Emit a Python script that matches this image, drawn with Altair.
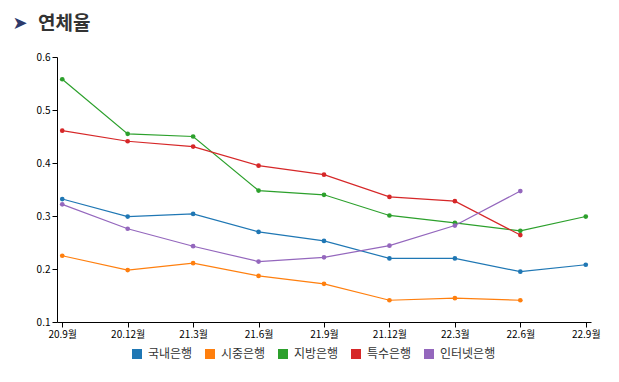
import altair as alt
import pandas as pd

periods = ["20.9월", "20.12월", "21.3월", "21.6월", "21.9월", "21.12월", "22.3월", "22.6월", "22.9월"]
series_names = ["국내은행", "시중은행", "지방은행", "특수은행", "인터넷은행"]
colors = ["#1f77b4", "#ff7f0e", "#2ca02c", "#d62728", "#9467bd"]

domestic = [0.332, 0.299, 0.304, 0.270, 0.253, 0.220, 0.220, 0.195, 0.208]
commercial = [0.225, 0.198, 0.211, 0.187, 0.172, 0.141, 0.145, 0.141, None]
regional = [0.558, 0.455, 0.450, 0.348, 0.340, 0.301, 0.287, 0.272, 0.299]
special = [0.461, 0.441, 0.431, 0.395, 0.378, 0.336, 0.328, 0.264, None]
internet = [0.322, 0.276, 0.243, 0.214, 0.222, 0.244, 0.282, 0.347, None]

rows = []
for name, vals in zip(series_names, [domestic, commercial, regional, special, internet]):
    for p, v in zip(periods, vals):
        if v is not None:
            rows.append({"기간": p, "은행": name, "연체율": v})
df = pd.DataFrame(rows)

FONT = "Noto Sans CJK KR"

x = alt.X("기간:N", sort=periods, title=None,
          scale=alt.Scale(type="point", padding=0.08),
          axis=alt.Axis(labelAngle=0, labelFontSize=10, labelColor="#000", tickColor="#000",
                        domainColor="#000", labelFont=FONT, labelFontWeight="normal",
                        tickSize=5, labelPadding=2))
y = alt.Y("연체율:Q", title=None,
          scale=alt.Scale(domain=[0.1, 0.6], zero=False, nice=False),
          axis=alt.Axis(values=[0.1, 0.2, 0.3, 0.4, 0.5, 0.6], format=".1f", grid=False,
                        labelFontSize=10, labelColor="#000", tickColor="#000", domainColor="#000",
                        labelFont=FONT, tickSize=5))
color = alt.Color("은행:N", sort=series_names,
                  scale=alt.Scale(domain=series_names, range=colors),
                  legend=alt.Legend(orient="none", legendX=74, legendY=291, direction="horizontal",
                                    title=None, symbolType="square", symbolSize=100,
                                    symbolStrokeWidth=0, symbolOpacity=1,
                                    labelFontSize=12, labelFont=FONT, labelColor="#333",
                                    columnPadding=11, labelOffset=5))

base = alt.Chart(df)
lines = base.mark_line(strokeWidth=1.2).encode(x=x, y=y, color=color)
points = base.mark_circle(size=22, opacity=1).encode(x=x, y=y, color=color)

title_df = pd.DataFrame({"t": ["연체율"]})
arrow_df = pd.DataFrame({"t": ["➤"]})
title_txt = alt.Chart(title_df).mark_text(align="left", baseline="middle", fontSize=19,
                                          fontWeight="bold", font=FONT, color="#333").encode(
    text="t:N", x=alt.value(-19), y=alt.value(-33))
arrow_txt = alt.Chart(arrow_df).mark_text(align="center", baseline="middle", fontSize=18,
                                          font="DejaVu Sans", color="#2d3a6b").encode(
    text="t:N", x=alt.value(-37), y=alt.value(-33))

chart = alt.layer(lines, points, title_txt, arrow_txt).properties(
    width=534, height=265,
    autosize=alt.AutoSizeParams(type="none"),
    padding={"left": 49, "top": 49, "right": 20, "bottom": 50},
).configure_view(stroke=None)

chart.save("out.html", embed_options={"renderer": "svg", "actions": False})
